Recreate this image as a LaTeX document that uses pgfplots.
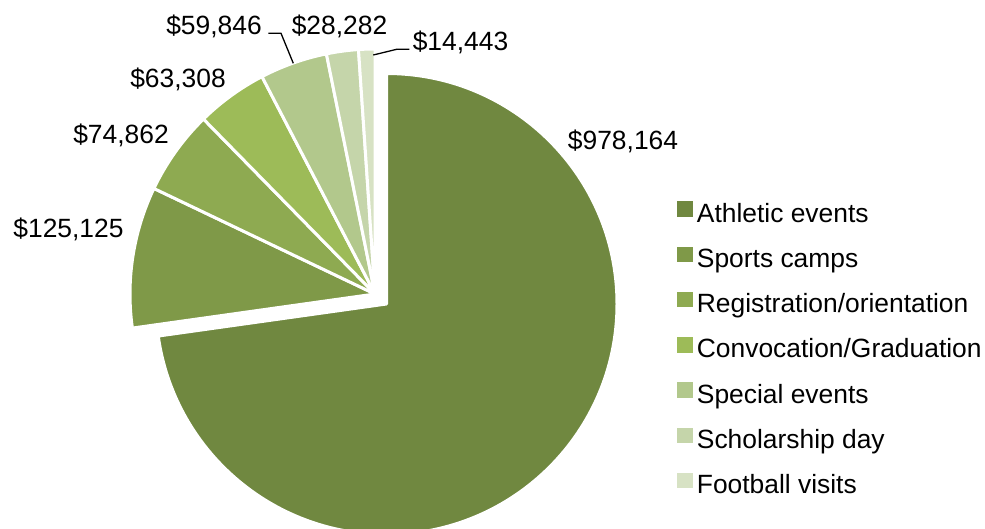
\documentclass[border=0pt]{standalone}
\usepackage{pgfplots}
\pgfplotsset{compat=1.18}
\usepackage{pgfplotstable}
\usepackage{fontspec}
\setmainfont{Liberation Sans}

\definecolor{slice0}{RGB}{112,136,64}
\definecolor{slice1}{RGB}{127,153,72}
\definecolor{slice2}{RGB}{142,170,81}
\definecolor{slice3}{RGB}{157,187,88}
\definecolor{slice4}{RGB}{178,200,140}
\definecolor{slice5}{RGB}{197,213,170}
\definecolor{slice6}{RGB}{215,226,196}

% value, and label centre in picture pixels (y down)
\pgfplotstableread{
name value lx ly
{Athletic events} 978164 623 140
{Sports camps} 125125 68.5 228.5
{Registration/orientation} 74862 121 134.5
{Convocation/Graduation} 63308 178 78
{Special events} 59846 214 25.5
{Scholarship day} 28282 339.5 25.5
{Football visits} 14443 460.5 41
}\piedata

\begin{document}
\begin{tikzpicture}
\xdef\pietotal{0}
\pgfplotsforeachungrouped \i in {0,...,6}{%
  \pgfplotstablegetelem{\i}{value}\of\piedata
  \xdef\pietotal{\fpeval{\pietotal+\pgfplotsretval}}%
}
\xdef\piecum{0}
\pgfplotsforeachungrouped \i in {0,...,6}{%
  \pgfplotstablegetelem{\i}{value}\of\piedata
  \expandafter\xdef\csname val\i\endcsname{\pgfplotsretval}%
  \expandafter\xdef\csname sa\i\endcsname{\fpeval{90-\piecum*360/\pietotal}}%
  \xdef\piecum{\fpeval{\piecum+\pgfplotsretval}}%
  \expandafter\xdef\csname ea\i\endcsname{\fpeval{90-\piecum*360/\pietotal}}%
  \pgfplotstablegetelem{\i}{name}\of\piedata
  \expandafter\xdef\csname nm\i\endcsname{\pgfplotsretval}%
  \pgfplotstablegetelem{\i}{lx}\of\piedata
  \expandafter\xdef\csname lx\i\endcsname{\pgfplotsretval}%
  \pgfplotstablegetelem{\i}{ly}\of\piedata
  \expandafter\xdef\csname ly\i\endcsname{\fpeval{529-\pgfplotsretval}}%
}
\begin{axis}[
    scale only axis,
    width=985bp,
    height=529bp,
    xmin=0, xmax=985,
    ymin=0, ymax=529,
    hide axis,
    clip=true,
    font=\fontsize{26.4bp}{31bp}\selectfont,
    legend cell align=left,
    legend style={
        at={(axis cs:677,327.5)}, anchor=north west,
        draw=none, fill=none, inner sep=0pt, outer sep=0pt,
        row sep=18.55bp, column sep=5bp,
        font=\fontsize{26.4bp}{31bp}\selectfont,
        nodes={inner sep=0pt, text height=19bp, text depth=6bp},
    },
]
\path (axis cs:0,0) rectangle (axis cs:985,529);
% the large slice, pulled out from the rest
\fill[slice0, draw=white, line width=3bp, line join=round]
    (axis cs:386.5,225) -- ++(\csname sa0\endcsname:230.5bp)
    arc[start angle=\csname sa0\endcsname, end angle=\csname ea0\endcsname, radius=230.5bp] -- cycle;
\pgfplotsinvokeforeach{1,...,6}{%
  \fill[slice#1, draw=white, line width=3bp, line join=round]
    (axis cs:375,235) -- ++(\csname sa#1\endcsname:245bp)
    arc[start angle=\csname sa#1\endcsname, end angle=\csname ea#1\endcsname, radius=245bp] -- cycle;
}
% leader lines
\draw[black, line width=1.3bp] (axis cs:268.3,495.7) -- (axis cs:281,495.7) -- (axis cs:293.3,465.7);
\draw[black, line width=1.3bp] (axis cs:373.3,474) -- (axis cs:396.7,479.7) -- (axis cs:409.3,479.7);
\pgfplotsinvokeforeach{0,...,6}{%
  \node[inner sep=0pt, text height=18.9bp, text depth=0pt]
    at (axis cs:\csname lx#1\endcsname,\csname ly#1\endcsname)
    {\$\pgfmathprintnumber[fixed, precision=0, 1000 sep={,}, assume math mode=true]{\csname val#1\endcsname}};
  \addlegendimage{legend image code/.code={\fill[slice#1] (0bp,-0.5bp) rectangle (14.5bp,14bp);}}
  \addlegendentryexpanded{\csname nm#1\endcsname}
}
\end{axis}
\end{tikzpicture}
\end{document}
